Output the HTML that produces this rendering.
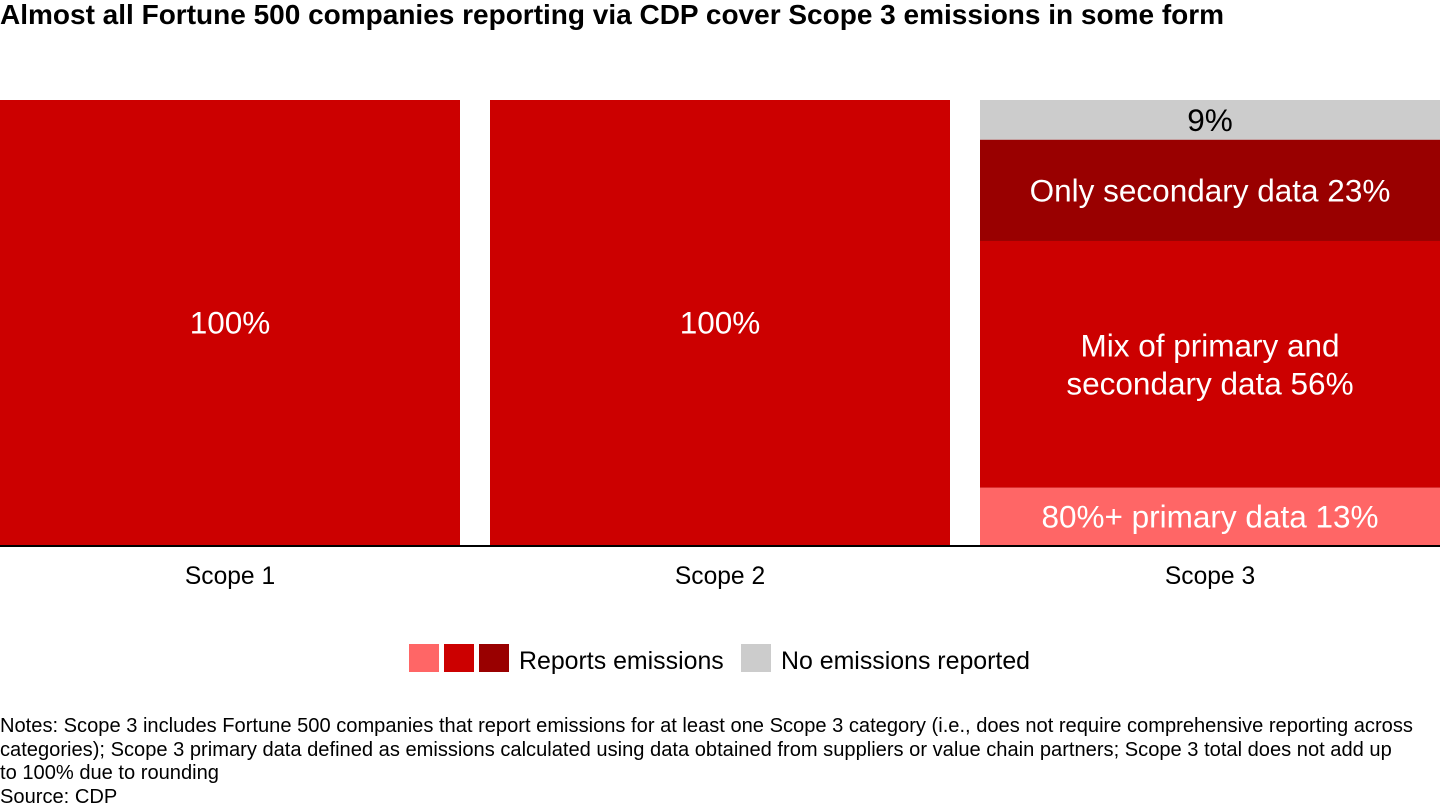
<!DOCTYPE html>
<html><head><meta charset="utf-8">
<style>
body{margin:0;width:1440px;height:810px;background:#fff;font-family:"Liberation Sans",Arial,sans-serif;overflow:hidden;position:relative}
#title{position:absolute;left:0;top:-1px;font-size:28px;font-weight:bold;color:#000;white-space:nowrap}
#notes{position:absolute;left:0;top:715px;font-size:20.1px;line-height:23.5px;color:#000;white-space:nowrap}
svg{position:absolute;left:0;top:0}
</style></head><body>
<div id="title">Almost all Fortune 500 companies reporting via CDP cover Scope 3 emissions in some form</div>
<svg id="chart" width="1440" height="700"></svg>
<div id="notes">Notes: Scope 3 includes Fortune 500 companies that report emissions for at least one Scope 3 category (i.e., does not require comprehensive reporting across<br>categories); Scope 3 primary data defined as emissions calculated using data obtained from suppliers or value chain partners; Scope 3 total does not add up<br>to 100% due to rounding<br>Source: CDP</div>
<script>
const categories=["Scope 1","Scope 2","Scope 3"];
const segLabels=[["100%"],["100%"],["80%+ primary data 13%","Mix of primary and\nsecondary data 56%","Only secondary data 23%","9%"]];
const segValues=[[100],[100],[13,56,23,9]];
const segColors=[["#CC0000"],["#CC0000"],["#FF6666","#CC0000","#990000","#CCCCCC"]];
const svg=document.getElementById('chart');
const NS="http://www.w3.org/2000/svg";
const top0=100,base=545,barW=460,gap=30;
function xPos(i){return i*(barW+gap);}
function mk(t,a){const e=document.createElementNS(NS,t);for(const k in a)e.setAttribute(k,a[k]);svg.appendChild(e);return e;}
categories.forEach((c,i)=>{
  const vals=segValues[i];const tot=vals.reduce((a,b)=>a+b,0);
  const scale=(base-top0)/tot;let y=base;
  vals.forEach((v,j)=>{
    const h=v*scale;y-=h;
    const r=mk('rect',{x:xPos(i),y:y,width:barW,height:h,fill:segColors[i][j]});
    
    
    const lines=segLabels[i][j].split('\n');
    const cy=y+h/2;const lh=38;
    lines.forEach((ln,k)=>{
      const t=mk('text',{x:xPos(i)+barW/2,y:cy+(k-(lines.length-1)/2)*lh+11,'text-anchor':'middle','font-size':'31.5','fill':segColors[i][j]=="#CCCCCC"?"#000":"#fff"});
      t.textContent=ln;
      
      
    });
  });
  const t=mk('text',{x:xPos(i)+barW/2,y:584,'text-anchor':'middle','font-size':'24.6','fill':'#000'});
  t.textContent=c;
  
  
});
const ax=mk('line',{x1:0,x2:1440,y1:546,y2:546,stroke:'#000','stroke-width':2});


const legend=[[409,"#FF6666"],[444,"#CC0000"],[479,"#990000"],[741,"#CCCCCC"]];
legend.forEach(l=>{const r=mk('rect',{x:l[0],y:644,width:30,height:28,fill:l[1]});

});
const l1=mk('text',{x:519,y:669,'font-size':'24.9',fill:'#000'});l1.textContent="Reports emissions";


const l2=mk('text',{x:781,y:669,'font-size':'24.9',fill:'#000'});l2.textContent="No emissions reported";


</script>
</body></html>
